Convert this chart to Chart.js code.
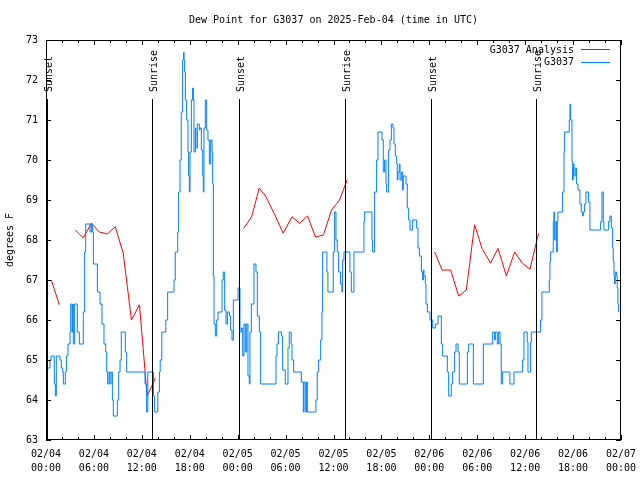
<!DOCTYPE html>
<html>
<head>
<meta charset="utf-8">
<script src="https://cdn.jsdelivr.net/npm/chart.js@4.4.1/dist/chart.umd.min.js"></script>
<style>
  body { margin: 0; background: #fff; }
  canvas { display: block; }
</style>
</head>
<body>
<canvas id="grafico" width="640" height="480"></canvas>
<script>
// hours since 02/04 00:00 UTC
const xTickHours = [0, 6, 12, 18, 24, 30, 36, 42, 48, 54, 60, 66, 72];
const xMinorHours = [2, 4, 8, 10, 14, 16, 20, 22, 26, 28, 32, 34, 38, 40, 44, 46, 50, 52, 56, 58, 62, 64, 68, 70];
const yTicks = [63, 64, 65, 66, 67, 68, 69, 70, 71, 72, 73];

const sunHours = [0.1, 13.3, 24.2, 37.4, 48.25, 61.3];
const sunLabels = ["Sunset", "Sunrise", "Sunset", "Sunrise", "Sunset", "Sunrise"];

// G3037 Analysis (null = gap)
const analysisHours = [0.67, 1.67, 2.7, 3.67, 4.67, 5.67, 6.67, 7.67, 8.67, 9.67, 10.7, 11.7, 12.67, 13.7, 14.0,
  24.75, 25.75, 26.7, 27.5, 28.6, 29.7, 30.8, 31.75, 32.75, 33.75, 34.75, 35.75, 36.75, 37.7, 38.0,
  48.67, 49.6, 50.67, 51.67, 52.63, 53.67, 54.6, 55.67, 56.6, 57.65, 58.68, 59.64, 60.6, 61.68];
const analysisDewpt = [67.0, 66.38, null, 68.25, 68.05, 68.42, 68.2, 68.15, 68.33, 67.67, 66.0, 66.38, 64.1, 64.55, null,
  68.29, 68.58, 69.3, 69.1, 68.65, 68.17, 68.58, 68.42, 68.6, 68.07, 68.13, 68.75, 69.0, 69.5, null,
  67.7, 67.25, 67.25, 66.6, 66.75, 68.38, 67.79, 67.42, 67.79, 67.1, 67.7, 67.42, 67.27, 68.17];

// G3037 observations (value holds until the next change)
const obsHours = [0.00, 0.50, 0.63, 1.04, 1.17, 1.29, 1.75, 1.92, 2.09, 2.17, 2.42, 2.55, 2.75, 3.01, 3.09, 3.26, 3.34, 3.42, 3.59, 3.92,
  4.17, 4.67, 4.84, 4.97, 5.51, 5.68, 5.84, 5.93, 6.43, 6.76, 7.01, 7.26, 7.47, 7.60, 7.72, 7.89, 8.01, 8.14, 8.31, 8.43,
  8.93, 9.10, 9.27, 9.43, 9.93, 10.10, 12.40, 12.60, 12.75, 13.45, 13.60, 14.00, 14.20, 14.30, 14.50, 15.00, 15.23, 16.03, 16.19, 16.49,
  16.61, 16.78, 16.94, 17.11, 17.24, 17.28, 17.36, 17.45, 17.61, 17.78, 17.86, 17.95, 18.03, 18.20, 18.36, 18.45, 18.53, 18.70, 18.78, 18.95,
  19.20, 19.28, 19.45, 19.62, 19.70, 19.78, 19.95, 20.12, 20.28, 20.45, 20.62, 20.79, 20.87, 20.95, 21.04, 21.20, 21.37, 21.54, 22.04, 22.20,
  22.37, 22.54, 22.71, 22.96, 23.12, 23.29, 23.46, 24.04, 24.29, 24.46, 24.63, 24.79, 24.96, 25.13, 25.29, 25.46, 25.54, 25.71, 26.04, 26.29,
  26.46, 26.71, 26.88, 28.80, 28.92, 29.10, 29.50, 29.63, 29.96, 30.30, 30.46, 30.70, 30.80, 31.01, 31.97, 32.22, 32.30, 32.47, 32.63, 32.72,
  33.80, 33.97, 34.14, 34.39, 34.55, 34.64, 35.18, 35.30, 35.97, 36.14, 36.31, 36.47, 36.64, 36.89, 37.06, 37.14, 37.31, 38.06, 38.23, 38.56,
  39.81, 39.90, 40.81, 40.90, 41.15, 41.40, 41.57, 42.07, 42.23, 42.40, 42.57, 42.65, 42.90, 43.07, 43.24, 43.45, 43.57, 43.74, 43.91, 43.99,
  44.07, 44.24, 44.33, 44.49, 44.66, 44.74, 45.08, 45.24, 45.41, 45.58, 45.91, 46.41, 46.58, 46.75, 47.00, 47.16, 47.25, 47.33, 47.50, 47.58,
  47.75, 48.08, 48.42, 48.75, 49.08, 49.50, 49.67, 50.25, 50.42, 50.75, 50.92, 51.17, 51.34, 51.59, 51.75, 52.76, 52.92, 53.51, 54.76, 55.93,
  56.18, 56.26, 56.51, 56.68, 56.85, 57.01, 57.18, 58.09, 58.60, 59.68, 59.85, 60.26, 60.35, 60.68, 60.77, 61.93, 62.10, 63.02, 63.10, 63.19,
  63.52, 63.60, 63.69, 63.85, 63.94, 64.02, 64.10, 64.69, 64.86, 64.94, 65.52, 65.61, 65.69, 65.86, 65.94, 66.02, 66.11, 66.27, 66.44, 66.61,
  66.86, 67.03, 67.19, 67.28, 67.44, 67.61, 67.94, 68.11, 69.45, 69.61, 69.78, 69.86, 70.45, 70.62, 70.78, 70.95, 71.03, 71.12, 71.20, 71.28,
  71.45, 71.53, 71.62, 71.70, 71.75];
const obsDewpt = [64.8, 65.0, 65.1, 64.4, 64.1, 65.1, 65.0, 64.8, 64.7, 64.4, 64.7, 65.1, 65.4, 65.7, 66.4, 65.7, 66.4, 65.4, 66.4, 65.7,
  65.4, 66.2, 67.7, 68.4, 68.2, 68.4, 68.2, 67.4, 66.7, 66.4, 65.9, 65.4, 65.2, 64.7, 64.4, 64.7, 64.4, 64.7, 64.0, 63.6,
  64.0, 64.7, 65.0, 65.7, 65.2, 64.7, 64.4, 63.7, 64.7, 64.1, 63.7, 64.2, 64.7, 65.0, 65.7, 66.0, 66.7, 67.0, 67.7, 68.2,
  69.2, 70.0, 71.2, 72.5, 72.7, 72.5, 72.2, 71.5, 71.0, 70.2, 69.6, 69.2, 70.2, 71.5, 71.8, 71.5, 70.2, 70.8, 70.3, 70.9,
  70.75, 70.8, 70.25, 69.6, 69.2, 70.8, 71.5, 70.75, 70.5, 69.9, 70.5, 70.2, 69.4, 67.1, 65.9, 65.6, 66.0, 66.2, 67.0, 67.2,
  66.25, 65.9, 66.2, 66.1, 65.75, 65.5, 66.5, 66.8, 65.7, 65.8, 65.1, 65.9, 65.2, 65.9, 64.6, 64.4, 65.7, 66.4, 67.4, 67.2,
  66.1, 65.7, 64.4, 65.1, 65.4, 65.7, 65.6, 64.75, 64.4, 65.3, 65.7, 65.4, 65.0, 64.7, 64.45, 63.7, 64.45, 63.7, 64.45, 63.7,
  64.0, 64.7, 65.0, 65.5, 66.2, 67.7, 67.2, 66.7, 67.7, 68.7, 68.0, 67.7, 67.2, 66.9, 66.7, 67.5, 67.7, 67.2, 66.7, 67.7,
  68.46, 68.7, 68.0, 67.7, 69.2, 70.0, 70.7, 70.5, 69.7, 70.0, 69.4, 69.2, 70.25, 70.5, 70.9, 70.8, 70.4, 70.1, 69.9, 69.5,
  69.7, 69.9, 69.5, 69.7, 69.25, 69.6, 69.4, 68.8, 68.5, 68.25, 68.5, 68.3, 67.8, 67.6, 67.2, 67.0, 67.25, 67.1, 66.9, 66.4,
  66.2, 66.0, 65.8, 65.9, 66.1, 65.4, 65.1, 64.7, 64.1, 64.4, 64.7, 65.2, 65.4, 65.2, 64.4, 65.2, 65.4, 64.4, 65.4, 65.7,
  65.5, 65.7, 65.4, 65.7, 65.4, 64.4, 64.7, 64.4, 64.7, 65.0, 65.7, 65.45, 64.7, 65.45, 65.7, 66.0, 66.7, 67.0, 67.46, 67.7,
  68.46, 68.7, 68.0, 68.46, 67.7, 68.46, 68.7, 69.2, 70.2, 70.7, 71.0, 71.4, 71.0, 69.96, 69.5, 69.9, 69.6, 69.8, 69.4, 69.25,
  68.9, 68.7, 68.6, 68.7, 68.9, 69.2, 68.95, 68.25, 68.46, 69.2, 68.46, 68.25, 68.46, 68.6, 68.3, 67.8, 67.46, 67.1, 66.9, 67.2,
  67.1, 66.8, 66.4, 66.2, 66.2];

const FONT = "DejaVu Sans Mono";
Chart.defaults.font.family = FONT;
Chart.defaults.font.size = 10;
Chart.defaults.color = "#000";

function etiquetaHora(h) {
    const dia = 4 + Math.floor(h / 24);
    const hora = h % 24;
    return ["02/0" + dia, String(hora).padStart(2, "0") + ":00"];
}

// marco, marcas internas, lineas de sol, titulo y leyenda
const extras = {
    id: "extras",
    beforeDraw(chart) {
        const ctx = chart.ctx;
        ctx.save();
        ctx.fillStyle = "#fff";
        ctx.fillRect(0, 0, chart.width, chart.height);
        ctx.restore();
    },
    afterDatasetsDraw(chart) {
        const { ctx, chartArea: a, scales: { x, y } } = chart;
        ctx.save();
        ctx.strokeStyle = "#000";
        ctx.lineWidth = 1;
        ctx.fillStyle = "#000";

        // lineas de amanecer / atardecer
        ctx.font = "10px " + FONT;
        sunHours.forEach((h, i) => {
            const px = Math.round(x.getPixelForValue(h)) + 0.5;
            ctx.beginPath();
            ctx.moveTo(px, 99);
            ctx.lineTo(px, a.bottom);
            ctx.stroke();
            ctx.save();
            ctx.translate(px + 1.5, 92);
            ctx.rotate(-Math.PI / 2);
            ctx.textAlign = "left";
            ctx.textBaseline = "middle";
            ctx.fillText(sunLabels[i], 0, 0);
            ctx.restore();
        });

        // marco
        ctx.strokeRect(a.left + 0.5, a.top + 0.5, a.right - a.left - 1, a.bottom - a.top - 1);

        // marcas
        ctx.beginPath();
        yTicks.forEach(v => {
            const py = Math.round(y.getPixelForValue(v)) + 0.5;
            ctx.moveTo(a.left, py); ctx.lineTo(a.left + 5, py);
            ctx.moveTo(a.right, py); ctx.lineTo(a.right - 5, py);
        });
        xTickHours.forEach(h => {
            const px = Math.round(x.getPixelForValue(h)) + 0.5;
            ctx.moveTo(px, a.bottom); ctx.lineTo(px, a.bottom - 5);
            ctx.moveTo(px, a.top); ctx.lineTo(px, a.top + 5);
        });
        xMinorHours.forEach(h => {
            const px = Math.round(x.getPixelForValue(h)) + 0.5;
            ctx.moveTo(px, a.bottom); ctx.lineTo(px, a.bottom - 3);
            ctx.moveTo(px, a.top); ctx.lineTo(px, a.top + 3);
        });
        ctx.stroke();

        // titulo
        ctx.textAlign = "center";
        ctx.textBaseline = "middle";
        ctx.fillText("Dew Point for G3037 on 2025-Feb-04 (time in UTC)", (a.left + a.right) / 2, 20);

        // etiqueta eje y
        ctx.save();
        ctx.translate(10, 240);
        ctx.rotate(-Math.PI / 2);
        ctx.fillText("degrees F", 0, 0);
        ctx.restore();

        // leyenda
        const series = [["G3037 Analysis", "#ff0000"], ["G3037", "#0080ff"]];
        series.forEach((s, i) => {
            const py = 50 + i * 12.5;
            ctx.textAlign = "right";
            ctx.fillStyle = "#000";
            ctx.fillText(s[0], 574, py);
            ctx.strokeStyle = s[1];
            ctx.beginPath();
            ctx.moveTo(581, Math.round(py) - 0.5);
            ctx.lineTo(610, Math.round(py) - 0.5);
            ctx.stroke();
        });
        ctx.restore();
    }
};

new Chart(document.getElementById("grafico"), {
    type: "line",
    data: {
        datasets: [
            {
                label: "G3037 Analysis",
                data: analysisHours.map((h, i) => ({ x: h, y: analysisDewpt[i] })),
                borderColor: "#ff0000",
                borderWidth: 1,
                pointRadius: 0,
                tension: 0,
                spanGaps: false,
                order: 1
            },
            {
                label: "G3037",
                data: obsHours.map((h, i) => ({ x: h, y: obsDewpt[i] })),
                borderColor: "#0080ff",
                borderWidth: 1,
                pointRadius: 0,
                stepped: true,
                order: 0
            }
        ]
    },
    options: {
        responsive: false,
        animation: false,
        devicePixelRatio: 1,
        layout: { padding: { top: 40, right: 19, left: 0, bottom: 0 } },
        plugins: {
            legend: { display: false },
            title: { display: false },
            tooltip: { enabled: false }
        },
        scales: {
            x: {
                type: "linear",
                min: 0,
                max: 72,
                afterBuildTicks: s => { s.ticks = xTickHours.map(v => ({ value: v })); },
                afterFit: s => {
                    s.height = 40;
                    s.paddingLeft = 0;
                    s.paddingRight = 0;
                },
                grid: { display: false, drawTicks: false },
                border: { display: false },
                ticks: {
                    autoSkip: false,
                    maxRotation: 0,
                    padding: 7,
                    font: { size: 10, lineHeight: 1.4 },
                    callback: v => etiquetaHora(v)
                }
            },
            y: {
                min: 63,
                max: 73,
                afterBuildTicks: s => { s.ticks = yTicks.map(v => ({ value: v })); },
                afterFit: s => {
                    s.width = 46;
                    s.paddingTop = 0;
                    s.paddingBottom = 0;
                },
                grid: { display: false, drawTicks: false },
                border: { display: false },
                ticks: { padding: 8, font: { size: 10 } }
            }
        }
    },
    plugins: [extras]
});
</script>
</body>
</html>
